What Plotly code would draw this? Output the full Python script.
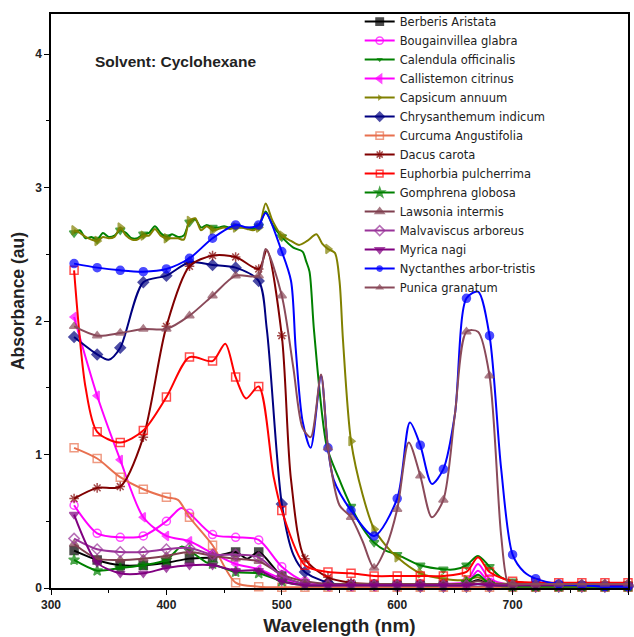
import plotly.graph_objects as go

# ---------------- data ----------------
names = ["Berberis Aristata", "Bougainvillea glabra", "Calendula officinalis",
         "Callistemon citrinus", "Capsicum annuum", "Chrysanthemum indicum",
         "Curcuma Angustifolia", "Dacus carota", "Euphorbia pulcherrima",
         "Gomphrena globosa", "Lawsonia intermis", "Malvaviscus arboreus",
         "Myrica nagi", "Nyctanthes arbor-tristis", "Punica granatum"]

tail_x = [540, 560, 580, 600, 620, 640, 660, 670, 680, 700, 720, 740, 760, 780, 800]

berberis_x = [320, 340, 360, 380, 400, 420, 440, 460, 470, 480, 500, 520] + tail_x
berberis_y = [0.28, 0.21, 0.17, 0.17, 0.19, 0.22, 0.23, 0.27, 0.22, 0.27, 0.09, 0.03,
              0.02, 0.02, 0.02, 0.02, 0.02, 0.02, 0.03, 0.06, 0.03, 0.02, 0.01, 0.01, 0.01, 0.01, 0.01]

bougain_x = [320, 340, 360, 380, 400, 413, 420, 440, 460, 480, 500, 520] + tail_x
bougain_y = [0.62, 0.41, 0.38, 0.39, 0.50, 0.60, 0.56, 0.40, 0.38, 0.36, 0.16, 0.05,
             0.03, 0.03, 0.03, 0.03, 0.03, 0.03, 0.05, 0.18, 0.07, 0.02, 0.02, 0.02, 0.02, 0.02, 0.02]

calendula_x = [320, 325, 330, 335, 340, 345, 350, 355, 360, 365, 370, 375, 380, 385, 390, 395,
               400, 405, 410, 415, 420, 425, 430, 435, 440, 445, 450, 455, 460, 465, 470, 475,
               480, 486, 492, 500, 510, 518, 521, 524, 528, 539, 549, 560, 570, 580, 590, 600,
               620, 640, 650, 660, 670, 680, 690, 700, 720, 740, 760, 780, 800]
calendula_y = [2.66, 2.68, 2.62, 2.63, 2.61, 2.66, 2.63, 2.64, 2.68, 2.66, 2.62, 2.62, 2.65, 2.66, 2.71, 2.66,
               2.63, 2.65, 2.63, 2.64, 2.74, 2.76, 2.70, 2.72, 2.70, 2.70, 2.71, 2.70, 2.71, 2.70, 2.70, 2.69,
               2.71, 2.82, 2.72, 2.63, 2.55, 2.52, 2.45, 2.37, 1.92, 1.06, 0.83, 0.61, 0.45, 0.34, 0.28, 0.25,
               0.17, 0.14, 0.14, 0.17, 0.24, 0.16, 0.08, 0.05, 0.03, 0.03, 0.03, 0.03, 0.03]

callist_x = [320, 340, 360, 380, 400, 420, 440, 460, 480, 500, 520] + tail_x
callist_y = [2.03, 1.44, 0.96, 0.53, 0.39, 0.35, 0.26, 0.18, 0.14, 0.07, 0.02,
             0.01, 0.01, 0.01, 0.01, 0.01, 0.01, 0.03, 0.13, 0.04, 0.01, 0.01, 0.01, 0.01, 0.01, 0.01]

capsicum_x = [320, 325, 330, 335, 340, 345, 350, 355, 360, 365, 370, 375, 380, 385, 390, 395,
              400, 405, 410, 415, 420, 425, 430, 435, 440, 445, 450, 455, 460, 465, 470, 475,
              480, 486, 492, 500, 508, 515, 522, 530, 535, 540, 546, 550, 553, 560, 570, 580,
              590, 600, 620, 640, 660, 670, 680, 700, 720, 740, 760, 780, 800]
capsicum_y = [2.68, 2.66, 2.63, 2.61, 2.60, 2.63, 2.62, 2.63, 2.70, 2.64, 2.61, 2.61, 2.64, 2.64, 2.69, 2.64,
              2.62, 2.62, 2.62, 2.61, 2.75, 2.77, 2.68, 2.71, 2.68, 2.69, 2.70, 2.69, 2.70, 2.70, 2.69, 2.68,
              2.70, 2.88, 2.75, 2.64, 2.60, 2.57, 2.60, 2.65, 2.58, 2.54, 2.51, 2.30, 1.86, 1.10, 0.70, 0.44,
              0.32, 0.23, 0.11, 0.07, 0.06, 0.08, 0.04, 0.03, 0.02, 0.02, 0.02, 0.02, 0.02]

chrys_x = [320, 340, 350, 360, 380, 400, 420, 440, 460, 480, 487, 500, 510, 520] + tail_x
chrys_y = [1.88, 1.75, 1.71, 1.80, 2.29, 2.34, 2.44, 2.42, 2.40, 2.30, 1.94, 0.63, 0.25, 0.12,
           0.04, 0.02, 0.02, 0.01, 0.01, 0.01, 0.01, 0.01, 0.01, 0.01, 0.01, 0.01, 0.01, 0.01, 0.01]

curcuma_x = [320, 340, 360, 380, 400, 410, 420, 440, 460, 480, 500, 520] + tail_x
curcuma_y = [1.05, 0.97, 0.83, 0.74, 0.68, 0.66, 0.53, 0.32, 0.04, 0.01, 0.005, 0.005,
             0.005, 0.005, 0.005, 0.005, 0.005, 0.005, 0.005, 0.005, 0.005, 0.005, 0.005, 0.005, 0.005, 0.005, 0.005]

dacus_x = [320, 340, 360, 380, 400, 420, 440, 460, 480, 487, 500, 508, 520] + tail_x
dacus_y = [0.67, 0.75, 0.76, 1.13, 1.96, 2.41, 2.49, 2.48, 2.39, 2.53, 1.89, 0.81, 0.22,
           0.08, 0.04, 0.03, 0.03, 0.03, 0.03, 0.03, 0.03, 0.03, 0.02, 0.02, 0.02, 0.02, 0.02, 0.02]

euphorbia_x = [320, 330, 340, 360, 380, 400, 420, 440, 451, 460, 469, 480, 493, 500, 520] + tail_x
euphorbia_y = [2.38, 1.50, 1.17, 1.09, 1.18, 1.43, 1.73, 1.70, 1.83, 1.58, 1.42, 1.51, 0.83, 0.58, 0.17,
               0.12, 0.11, 0.09, 0.09, 0.09, 0.09, 0.12, 0.23, 0.12, 0.05, 0.04, 0.04, 0.04, 0.04, 0.04]

gomphrena_x = [320, 340, 360, 380, 400, 413, 420, 435, 440, 460, 480, 500, 520] + tail_x
gomphrena_y = [0.21, 0.13, 0.15, 0.17, 0.21, 0.31, 0.28, 0.19, 0.18, 0.12, 0.11, 0.05, 0.02,
               0.02, 0.02, 0.02, 0.02, 0.02, 0.02, 0.04, 0.10, 0.03, 0.01, 0.01, 0.01, 0.01, 0.01, 0.01]

lawsonia_x = [320, 340, 360, 380, 400, 420, 440, 460, 480, 500, 520] + tail_x
lawsonia_y = [0.33, 0.22, 0.21, 0.22, 0.24, 0.27, 0.24, 0.22, 0.20, 0.10, 0.05,
              0.03, 0.03, 0.03, 0.03, 0.03, 0.03, 0.03, 0.05, 0.03, 0.03, 0.03, 0.03, 0.03, 0.03, 0.03]

malva_x = [320, 340, 360, 380, 400, 420, 440, 460, 480, 500, 520] + tail_x
malva_y = [0.37, 0.29, 0.27, 0.27, 0.29, 0.30, 0.25, 0.25, 0.23, 0.09, 0.03,
           0.02, 0.02, 0.02, 0.02, 0.02, 0.02, 0.02, 0.03, 0.02, 0.02, 0.02, 0.02, 0.02, 0.02, 0.02]

myrica_x = [320, 340, 360, 380, 400, 420, 440, 460, 480, 500, 520] + tail_x
myrica_y = [0.55, 0.19, 0.11, 0.11, 0.15, 0.17, 0.17, 0.13, 0.13, 0.05, 0.02,
            0.02, 0.02, 0.02, 0.02, 0.02, 0.02, 0.02, 0.03, 0.02, 0.02, 0.02, 0.02, 0.02, 0.02, 0.02]

nyct_x = [320, 340, 360, 380, 400, 420, 440, 460, 470, 480, 486, 500, 508, 512, 518, 525, 534,
          540, 545, 560, 580, 600, 611, 620, 630, 640, 650, 660, 670, 680, 690, 700, 710, 720,
          740, 760, 780, 800]
nyct_y = [2.43, 2.40, 2.38, 2.37, 2.39, 2.47, 2.62, 2.72, 2.70, 2.72, 2.81, 2.52, 2.30, 1.80, 1.25, 1.05, 1.59,
          1.05, 0.81, 0.58, 0.39, 0.67, 1.24, 1.07, 0.78, 0.89, 1.30, 2.17, 2.22, 1.89, 0.90, 0.25, 0.12, 0.07,
          0.03, 0.02, 0.01, 0.01]

punica_x = [320, 340, 360, 380, 400, 420, 440, 460, 480, 486, 500, 510, 518, 525, 534, 540, 550,
            560, 570, 580, 590, 600, 610, 620, 630, 640, 650, 660, 670, 680, 690, 696, 700, 720,
            740, 760, 780, 800]
punica_y = [1.96, 1.89, 1.91, 1.94, 1.94, 2.04, 2.19, 2.34, 2.34, 2.54, 2.19, 1.65, 1.20, 1.13, 1.60, 1.05, 0.62,
            0.53, 0.35, 0.15, 0.30, 0.59, 1.09, 0.84, 0.53, 0.66, 1.30, 1.92, 1.92, 1.59, 0.40, 0.04, 0.03, 0.03,
            0.03, 0.03, 0.03, 0.03]

series_x = [berberis_x, bougain_x, calendula_x, callist_x, capsicum_x, chrys_x, curcuma_x,
            dacus_x, euphorbia_x, gomphrena_x, lawsonia_x, malva_x, myrica_x, nyct_x, punica_x]
series_y = [berberis_y, bougain_y, calendula_y, callist_y, capsicum_y, chrys_y, curcuma_y,
            dacus_y, euphorbia_y, gomphrena_y, lawsonia_y, malva_y, myrica_y, nyct_y, punica_y]

# ---------------- styles ----------------
colors = ["#000000", "#FF00FF", "#008000", "#FF00FF", "#808000", "#000080", "#E8704F",
          "#800000", "#FF0000", "#008000", "#7F3F4F", "#993399", "#800080", "#0000FF", "#8A4A5A"]
symbols = ["square", "circle-open", "triangle-down", "triangle-left", "triangle-right",
           "diamond", "square-open", "asterisk-open", "square-open", "star", "triangle-up",
           "diamond-open", "triangle-down", "circle", "triangle-up"]

fig = go.Figure()
for name, xs, ys, c, s in zip(names, series_x, series_y, colors, symbols):
    sizes = [8 if (x % 20 == 0) else 0 for x in xs]
    fig.add_trace(go.Scatter(
        x=xs, y=ys, name=name, mode="lines+markers",
        line=dict(color=c, width=2, shape="spline", smoothing=0.8),
        marker=dict(symbol=s, size=sizes, color=c, line=dict(color=c, width=1.5)),
        cliponaxis=False,
    ))

font_family = "Arial, Liberation Sans, sans-serif"
fig.update_layout(
    width=634, height=637,
    margin=dict(l=51, r=4, t=14, b=49),
    paper_bgcolor="white", plot_bgcolor="white",
    font=dict(family=font_family, color="#222222"),
    showlegend=True,
    legend=dict(x=0.535, y=1.012, xanchor="left", yanchor="top",
                bgcolor="rgba(0,0,0,0)",
                font=dict(size=11.5, color="#222222", family="DejaVu Sans, sans-serif"),
                tracegroupgap=0, itemwidth=30),
    annotations=[dict(text="<b>Solvent: Cyclohexane</b>", x=0.216, y=0.918,
                      xref="paper", yref="paper", showarrow=False,
                      font=dict(size=15.5, color="#222222"), xanchor="center", yanchor="middle")],
)
fig.update_xaxes(range=[300, 800], dtick=100, tick0=300, ticks="outside", ticklen=5,
                 tickwidth=1.2, tickcolor="black",
                 minor=dict(dtick=50, ticks="outside", ticklen=3, tickcolor="black"),
                 showline=True, mirror=True, linecolor="black", linewidth=1.5,
                 showgrid=False, zeroline=False,
                 tickfont=dict(size=12, color="#222222", family=font_family, weight="bold"),
                 title=dict(text="<b>Wavelength (nm)</b>", font=dict(size=19, color="#222222"),
                            standoff=8))
fig.update_yaxes(range=[0, 4.3], dtick=1, tick0=0, ticks="outside", ticklen=5,
                 tickwidth=1.2, tickcolor="black",
                 minor=dict(dtick=0.5, ticks="outside", ticklen=3, tickcolor="black"),
                 showline=True, mirror=True, linecolor="black", linewidth=1.5,
                 showgrid=False, zeroline=False,
                 tickfont=dict(size=12, color="#222222", family=font_family, weight="bold"),
                 title=dict(text="<b>Absorbance (au)</b>", font=dict(size=17.5, color="#222222"),
                            standoff=6))

fig.write_html("out.html", config={"displayModeBar": False},
               post_script="document.body.style.margin='0px';")
